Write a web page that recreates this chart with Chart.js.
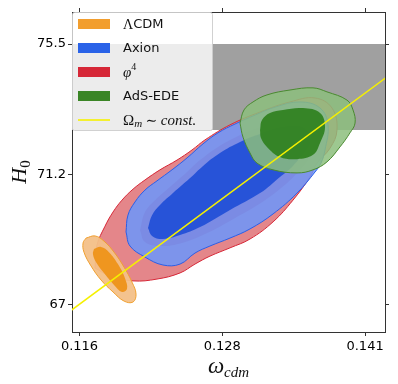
<!DOCTYPE html>
<html>
<head>
<meta charset="utf-8">
<script src="https://cdn.jsdelivr.net/npm/chart.js@4.4.0/dist/chart.umd.min.js"></script>
<style>
  html, body { margin: 0; padding: 0; background: #fff; }
  canvas { display: block; }
</style>
</head>
<body>
<canvas id="chart" width="398" height="384"></canvas>
<script>
// ---- AXES ----
const xRange = [0.11535, 0.14253];
const yRange = [66.09, 76.55];
const xTicks = [0.1160, 0.1284, 0.1408];
const xTickLabels = ["0.116", "0.128", "0.141"];
const yTicks = [67, 71.25, 75.5];
const yTickLabels = ["67", "71.2", "75.5"];

// ---- SH0ES band (H0) ----
const bandX = [0.1153, 0.1426];
const bandH0 = [72.69, 75.5];

// ---- Omega_m ~ const. line ----
const lineX = [0.1153, 0.1426];
const lineY = [66.80, 74.40];

// ---- LCDM contours ----
const lcdmOuterX = [0.11657, 0.11735, 0.11813, 0.11900, 0.11987, 0.12056, 0.12091, 0.12065, 0.11987, 0.11891, 0.11787, 0.11700, 0.11639, 0.11631];
const lcdmOuterY = [69.16, 69.23, 69.06, 68.70, 68.21, 67.72, 67.33, 67.07, 67.10, 67.40, 67.79, 68.25, 68.70, 69.00];
const lcdmInnerX = [0.11726, 0.11787, 0.11856, 0.11934, 0.11995, 0.12013, 0.11969, 0.11900, 0.11813, 0.11743, 0.11717];
const lcdmInnerY = [68.80, 68.87, 68.70, 68.31, 67.85, 67.50, 67.40, 67.63, 68.02, 68.38, 68.64];

// ---- phi^4 contours ----
const phiOuterX = [0.11735, 0.11752, 0.11822, 0.11891, 0.11969, 0.12065, 0.12169, 0.12299, 0.12447, 0.12577, 0.12690, 0.12907, 0.13168, 0.13428, 0.13645, 0.13793, 0.13836, 0.13776, 0.13663, 0.13602, 0.13454, 0.13281, 0.13081, 0.12907, 0.12733, 0.12603, 0.12473, 0.12273, 0.12065, 0.11865];
const phiOuterY = [68.18, 68.93, 69.55, 70.01, 70.40, 70.76, 71.06, 71.39, 71.71, 72.04, 72.37, 72.86, 73.28, 73.61, 73.74, 73.41, 72.69, 72.10, 71.61, 71.16, 70.40, 69.69, 69.13, 68.84, 68.57, 68.31, 68.02, 67.82, 67.76, 67.92];
const phiInnerX = [0.12126, 0.12169, 0.12256, 0.12386, 0.12534, 0.12647, 0.12803, 0.12977, 0.13150, 0.13385, 0.13584, 0.13671, 0.13584, 0.13498, 0.13385, 0.13211, 0.12951, 0.12690, 0.12490, 0.12299, 0.12169];
const phiInnerY = [69.42, 70.01, 70.40, 70.83, 71.32, 71.71, 72.14, 72.50, 72.76, 73.02, 73.02, 72.37, 71.71, 71.32, 70.90, 70.40, 69.82, 69.29, 69.00, 68.90, 69.03];

// ---- Axion contours ----
const axionOuterX = [0.12004, 0.12021, 0.12082, 0.12169, 0.12273, 0.12403, 0.12534, 0.12673, 0.12803, 0.12951, 0.13124, 0.13298, 0.13515, 0.13689, 0.13758, 0.13732, 0.13697, 0.13645, 0.13489, 0.13281, 0.13081, 0.12907, 0.12733, 0.12603, 0.12473, 0.12325, 0.12169, 0.12039];
const axionOuterY = [69.36, 69.91, 70.34, 70.73, 71.03, 71.39, 71.78, 72.24, 72.60, 72.89, 73.18, 73.44, 73.61, 73.41, 72.86, 72.04, 71.61, 71.32, 70.63, 69.95, 69.46, 69.16, 68.90, 68.67, 68.31, 68.28, 68.54, 68.90];
const axionInnerX = [0.12195, 0.12230, 0.12299, 0.12412, 0.12560, 0.12673, 0.12820, 0.12994, 0.13168, 0.13385, 0.13541, 0.13602, 0.13532, 0.13454, 0.13341, 0.13168, 0.12907, 0.12647, 0.12473, 0.12325, 0.12230];
const axionInnerY = [69.49, 69.91, 70.24, 70.63, 71.12, 71.52, 71.94, 72.30, 72.56, 72.79, 72.76, 72.37, 71.88, 71.52, 71.16, 70.63, 70.08, 69.52, 69.26, 69.13, 69.23];

// ---- AdS-EDE contours ----
const adsOuterX = [0.12994, 0.13029, 0.13107, 0.13228, 0.13428, 0.13628, 0.13749, 0.13923, 0.13975, 0.13993, 0.13949, 0.13862, 0.13749, 0.13628, 0.13489, 0.13281, 0.13142, 0.13081, 0.13020];
const adsOuterY = [72.92, 73.35, 73.61, 73.84, 74.00, 74.07, 73.94, 73.67, 73.35, 72.92, 72.60, 72.14, 71.65, 71.39, 71.29, 71.39, 71.61, 71.94, 72.46];
const adsInnerX = [0.13168, 0.13185, 0.13254, 0.13367, 0.13541, 0.13689, 0.13732, 0.13689, 0.13628, 0.13489, 0.13341, 0.13228, 0.13176];
const adsInnerY = [72.69, 73.02, 73.25, 73.35, 73.41, 73.25, 72.79, 72.27, 71.88, 71.74, 71.81, 72.14, 72.43];

// ---- helpers ----
function poly(xs, ys) {
  const pts = xs.map((x, i) => ({ x: x, y: ys[i] }));
  pts.push({ x: xs[0], y: ys[0] });
  return pts;
}

function contour(xs, ys, fill, edge, order) {
  return {
    data: poly(xs, ys),
    showLine: true,
    fill: "shape",
    backgroundColor: fill,
    borderColor: edge || "rgba(0,0,0,0)",
    borderWidth: edge ? 1 : 0,
    pointRadius: 0,
    tension: 0.4,
    order: order
  };
}

const datasets = [
  {
    data: [
      { x: bandX[0], y: bandH0[0] }, { x: bandX[1], y: bandH0[0] },
      { x: bandX[1], y: bandH0[1] }, { x: bandX[0], y: bandH0[1] },
      { x: bandX[0], y: bandH0[0] }
    ],
    showLine: true, fill: "shape", backgroundColor: "#a0a0a0",
    borderColor: "#a0a0a0", borderWidth: 0, pointRadius: 0, order: 20
  },
  contour(phiOuterX, phiOuterY, "rgba(228,134,138,1)", "#d62737", 19),
  contour(phiInnerX, phiInnerY, "rgba(210,70,90,0.9)", null, 18),
  contour(axionOuterX, axionOuterY, "rgba(107,150,252,0.85)", "#2a5fe8", 17),
  contour(axionInnerX, axionInnerY, "rgba(35,80,215,0.95)", null, 16),
  contour(lcdmOuterX, lcdmOuterY, "rgba(243,192,136,0.95)", "#f0a030", 15),
  contour(lcdmInnerX, lcdmInnerY, "rgba(238,148,25,0.95)", null, 14),
  contour(adsOuterX, adsOuterY, "rgba(140,190,125,0.85)", "#4a8a30", 13),
  contour(adsInnerX, adsInnerY, "rgba(47,128,30,0.92)", null, 12),
  {
    data: lineX.map((x, i) => ({ x: x, y: lineY[i] })),
    showLine: true, fill: false, borderColor: "#f5f000", borderWidth: 1.6,
    pointRadius: 0, order: 1
  }
];

// ---- LEGEND + AXIS TITLES ----
const serif = '"Liberation Serif", "DejaVu Serif", serif';
const sans = '"DejaVu Sans", sans-serif';
const legendItems = [
  { color: "#f29e2e", parts: [["Λ", "14px " + serif, 0], ["CDM", "13px " + sans, 0]] },
  { color: "#2a63e8", parts: [["Axion", "13px " + sans, 0]] },
  { color: "#d62737", parts: [["φ", "italic 15px " + serif, 0], ["4", "10px " + serif, -6]] },
  { color: "#3a8526", parts: [["AdS-EDE", "13px " + sans, 0]] },
  { color: "#f5f000", line: true, parts: [["Ω", "15px " + serif, 0], ["m", "italic 11px " + serif, 3], [" ∼ ", "14px " + serif, 0], ["const.", "italic 15px " + serif, 0]] }
];

function drawParts(ctx, parts, x, y) {
  parts.forEach(p => {
    ctx.font = p[1];
    ctx.fillText(p[0], x, y + p[2]);
    x += ctx.measureText(p[0]).width;
  });
  return x;
}

const overlay = {
  id: "overlay",
  afterDraw(chart) {
    const ctx = chart.ctx;
    const a = chart.chartArea;
    ctx.save();
    // legend box
    const bx = a.left + 0.5, by = a.top + 0.5, bw = 140, bh = 118;
    ctx.beginPath();
    ctx.roundRect(bx, by, bw, bh, 2);
    ctx.fillStyle = "rgba(255,255,255,0.8)";
    ctx.fill();
    ctx.strokeStyle = "rgba(204,204,204,0.9)";
    ctx.lineWidth = 1;
    ctx.stroke();
    ctx.textBaseline = "middle";
    ctx.fillStyle = "#111";
    legendItems.forEach((it, i) => {
      const cy = a.top + 12 + i * 24;
      ctx.fillStyle = it.color;
      if (it.line) {
        ctx.fillRect(a.left + 6, cy - 0.8, 32, 1.6);
      } else {
        ctx.fillRect(a.left + 6, cy - 5, 32, 10);
      }
      ctx.fillStyle = "#111";
      drawParts(ctx, it.parts, a.left + 51, cy + 1);
    });
    // x title
    ctx.textBaseline = "alphabetic";
    ctx.font = "italic 23px " + serif;
    const w1 = ctx.measureText("ω").width;
    ctx.font = "italic 15px " + serif;
    const w2 = ctx.measureText("cdm").width;
    const tx = (a.left + a.right) / 2 - (w1 + w2) / 2;
    drawParts(ctx, [["ω", "italic 23px " + serif, 0], ["cdm", "italic 15px " + serif, 4]], tx, 373);
    // y title
    ctx.translate(26, (a.top + a.bottom) / 2);
    ctx.rotate(-Math.PI / 2);
    ctx.font = "italic 22px " + serif;
    const h1 = ctx.measureText("H").width;
    ctx.font = "15px " + serif;
    const h2 = ctx.measureText("0").width;
    drawParts(ctx, [["H", "italic 22px " + serif, 0], ["0", "15px " + serif, 4]], -(h1 + h2) / 2, 0);
    ctx.restore();
  }
};

const tickFont = { family: "DejaVu Sans", size: 13 };
const gridOpts = { drawOnChartArea: false, color: "#333", tickLength: 4 };
const borderOpts = { color: "#333", width: 1 };

new Chart(document.getElementById("chart"), {
  type: "scatter",
  data: { datasets: datasets },
  options: {
    responsive: false,
    animation: false,
    layout: { padding: 0 },
    plugins: { legend: { display: false }, tooltip: { enabled: false } },
    scales: {
      x: {
        type: "linear", position: "bottom", min: xRange[0], max: xRange[1], z: 1,
        afterBuildTicks: s => { s.ticks = xTicks.map(v => ({ value: v })); },
        afterFit: s => { s.height = 52; },
        ticks: { color: "#000", font: tickFont, padding: 3, maxRotation: 0, callback: (v, i) => xTickLabels[i] },
        grid: gridOpts, border: borderOpts
      },
      x2: {
        type: "linear", position: "top", min: xRange[0], max: xRange[1], z: 1,
        afterBuildTicks: s => { s.ticks = xTicks.map(v => ({ value: v })); },
        afterFit: s => { s.height = 12; },
        ticks: { display: false },
        grid: gridOpts, border: borderOpts
      },
      y: {
        type: "linear", position: "left", min: yRange[0], max: yRange[1], z: 1,
        afterBuildTicks: s => { s.ticks = yTicks.map(v => ({ value: v })); },
        afterFit: s => { s.width = 72; },
        ticks: { color: "#000", font: tickFont, padding: 2, callback: (v, i) => yTickLabels[i] },
        grid: gridOpts, border: borderOpts
      },
      y2: {
        type: "linear", position: "right", min: yRange[0], max: yRange[1], z: 1,
        afterBuildTicks: s => { s.ticks = yTicks.map(v => ({ value: v })); },
        afterFit: s => { s.width = 13; },
        ticks: { display: false },
        grid: gridOpts, border: borderOpts
      }
    }
  },
  plugins: [overlay]
});
</script>
</body>
</html>
